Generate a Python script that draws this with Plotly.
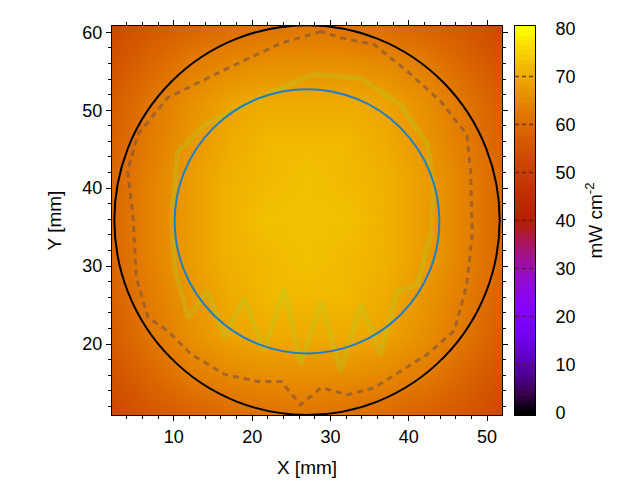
import numpy as np
import plotly.graph_objects as go

# heatmap grid (mm) and intensity (mW cm^-2)
x_mm = [2, 7, 12, 17, 22, 27, 32, 37, 42, 47, 52]
y_mm = [11, 16, 21, 26, 31, 36, 41, 46, 51, 56, 61]
intensity = [
    [52, 56, 58, 60, 61, 62, 61, 60, 58, 56, 52],
    [55, 59, 63, 65, 66, 66, 66, 65, 63, 59, 55],
    [57, 62, 66, 69, 70, 70, 70, 69, 66, 62, 57],
    [58, 63, 67, 70, 72, 72, 72, 70, 67, 63, 58],
    [59, 64, 68, 71, 72, 73, 72, 71, 68, 64, 59],
    [59, 64, 68, 71, 73, 73, 73, 71, 68, 64, 59],
    [59, 64, 68, 71, 72, 73, 72, 71, 68, 64, 59],
    [58, 63, 67, 70, 72, 72, 72, 70, 67, 63, 58],
    [57, 62, 66, 69, 70, 70, 70, 69, 66, 62, 57],
    [55, 59, 63, 65, 66, 66, 66, 65, 63, 59, 55],
    [52, 56, 58, 60, 61, 62, 61, 60, 58, 56, 52],
]

# dashed brown contour
contour_x = [28.8, 23.7, 16.9, 9.2, 5.4, 4.1, 4.8, 5.2, 6.7, 9.2, 12.2, 16.5, 20.7,
             23.7, 26.2, 28.8, 32.2, 35.6, 38.9, 42.4, 45.8, 47.4, 48.1, 47.9, 47.4,
             44.1, 39.8, 35.6, 31.3, 28.8]
contour_y = [60.1, 58.6, 55.4, 51.6, 46.9, 42.2, 36.2, 28.5, 23.4, 21.7, 18.7, 16.1, 15.2,
             15.2, 12.2, 14.4, 13.5, 14.4, 16.5, 18.7, 21.7, 27.6, 34.1, 42.2, 46.9,
             51.1, 55.0, 58.4, 59.3, 60.1]

# green contour
green_x = [27.9, 33.9, 38.9, 42.4, 43.2, 42.8, 41.1, 38.5, 36.4, 33.9, 31.3, 28.8, 26.2,
           24.1, 21.5, 19.0, 16.5, 14.3, 11.8, 10.1, 9.7, 10.5, 13.9, 19.4, 23.7, 27.9]
green_y = [54.6, 54.1, 50.7, 45.6, 39.6, 34.1, 27.6, 26.8, 18.7, 25.1, 16.5, 25.5, 17.4,
           27.2, 19.1, 25.9, 20.8, 26.8, 23.4, 29.8, 36.2, 44.7, 48.1, 50.7, 52.9, 54.6]

# circles: (x0, x1, y0, y1)
outer_circle = (2.4, 51.6, 10.9, 60.9)
inner_circle = (10.1, 43.9, 18.8, 52.7)

# colour bar values and the contour levels marked on it
cbar_values = list(range(0, 81))
levels = [10, 20, 30, 40, 50, 60, 70]

# gnuplot rgbformulae 7,5,15 palette
s = np.linspace(0, 1, 21)
r, g, b = np.sqrt(s), s ** 3, np.clip(np.sin(2 * np.pi * s), 0, 1)
palette = [[float(v), f"rgb({int(255*ri)},{int(255*gi)},{int(255*bi)})"]
           for v, ri, gi, bi in zip(s, r, g, b)]

font = "Liberation Sans, Arial, sans-serif"
left, right_margin = 104, 10
paper_w = 626 - left - right_margin


def px(v):
    return (v - left) / paper_w


fig = go.Figure()
fig.add_trace(go.Heatmap(
    x=x_mm, y=y_mm, z=intensity, coloraxis="coloraxis", zsmooth="best",
))
fig.add_trace(go.Scatter(
    x=green_x, y=green_y, mode="lines", line=dict(color="rgba(170,210,40,0.3)", width=5),
    hoverinfo="skip", showlegend=False,
))
fig.add_trace(go.Scatter(
    x=contour_x, y=contour_y, mode="lines",
    line=dict(color="rgba(130,85,60,0.65)", width=3, dash="6px,5px"),
    hoverinfo="skip", showlegend=False,
))
# hand-made colour bar
fig.add_trace(go.Heatmap(
    x=[0, 1], y=cbar_values, z=[[v, v] for v in cbar_values],
    coloraxis="coloraxis", xaxis="x2", yaxis="y2", hoverinfo="skip",
))

x0, x1, y0, y1 = outer_circle
fig.add_shape(type="circle", x0=x0, x1=x1, y0=y0, y1=y1, line=dict(color="black", width=2))
x0, x1, y0, y1 = inner_circle
fig.add_shape(type="circle", x0=x0, x1=x1, y0=y0, y1=y1, line=dict(color="#1f7fc4", width=2))
for lv in levels:
    fig.add_shape(type="line", xref="x2", yref="y2", x0=-0.5, x1=1.5, y0=lv, y1=lv,
                  line=dict(color="rgba(80,30,20,0.75)", width=1.5, dash="4px,3px"))

axis_common = dict(
    showgrid=False, zeroline=False, mirror="ticks", showline=True, linecolor="black",
    ticks="outside", ticklen=5, tickcolor="black", tickfont=dict(size=18),
    minor=dict(ticks="outside", ticklen=3, dtick=2, tickcolor="black"),
)

fig.update_layout(
    width=626, height=503,
    margin=dict(l=left, r=right_margin, t=18, b=96),
    paper_bgcolor="white", plot_bgcolor="white",
    font=dict(family=font, color="black"),
    coloraxis=dict(cmin=0, cmax=80, colorscale=palette, showscale=False),
    xaxis=dict(domain=[0, px(494)], range=[2.1, 51.9], dtick=10, tick0=10,
               title=dict(text="X [mm]", font=dict(size=19)), **axis_common),
    yaxis=dict(range=[10.9, 60.8], dtick=10, tick0=10,
               title=dict(text="Y [mm]", font=dict(size=19)), **axis_common),
    xaxis2=dict(domain=[px(507), px(527)], range=[-0.5, 1.5], anchor="y2",
                showticklabels=False, showgrid=False, zeroline=False,
                showline=True, mirror=True, linecolor="black"),
    yaxis2=dict(range=[-0.5, 80.5], anchor="x2", side="right", tickvals=list(range(0, 81, 10)),
                ticks="outside", ticklen=0, ticklabelstandoff=16, tickfont=dict(size=18),
                showgrid=False, zeroline=False, showline=True, mirror=True, linecolor="black",
                title=dict(text="mW cm<sup>-2</sup>", font=dict(size=19), standoff=14)),
)

fig.write_html("out.html")
